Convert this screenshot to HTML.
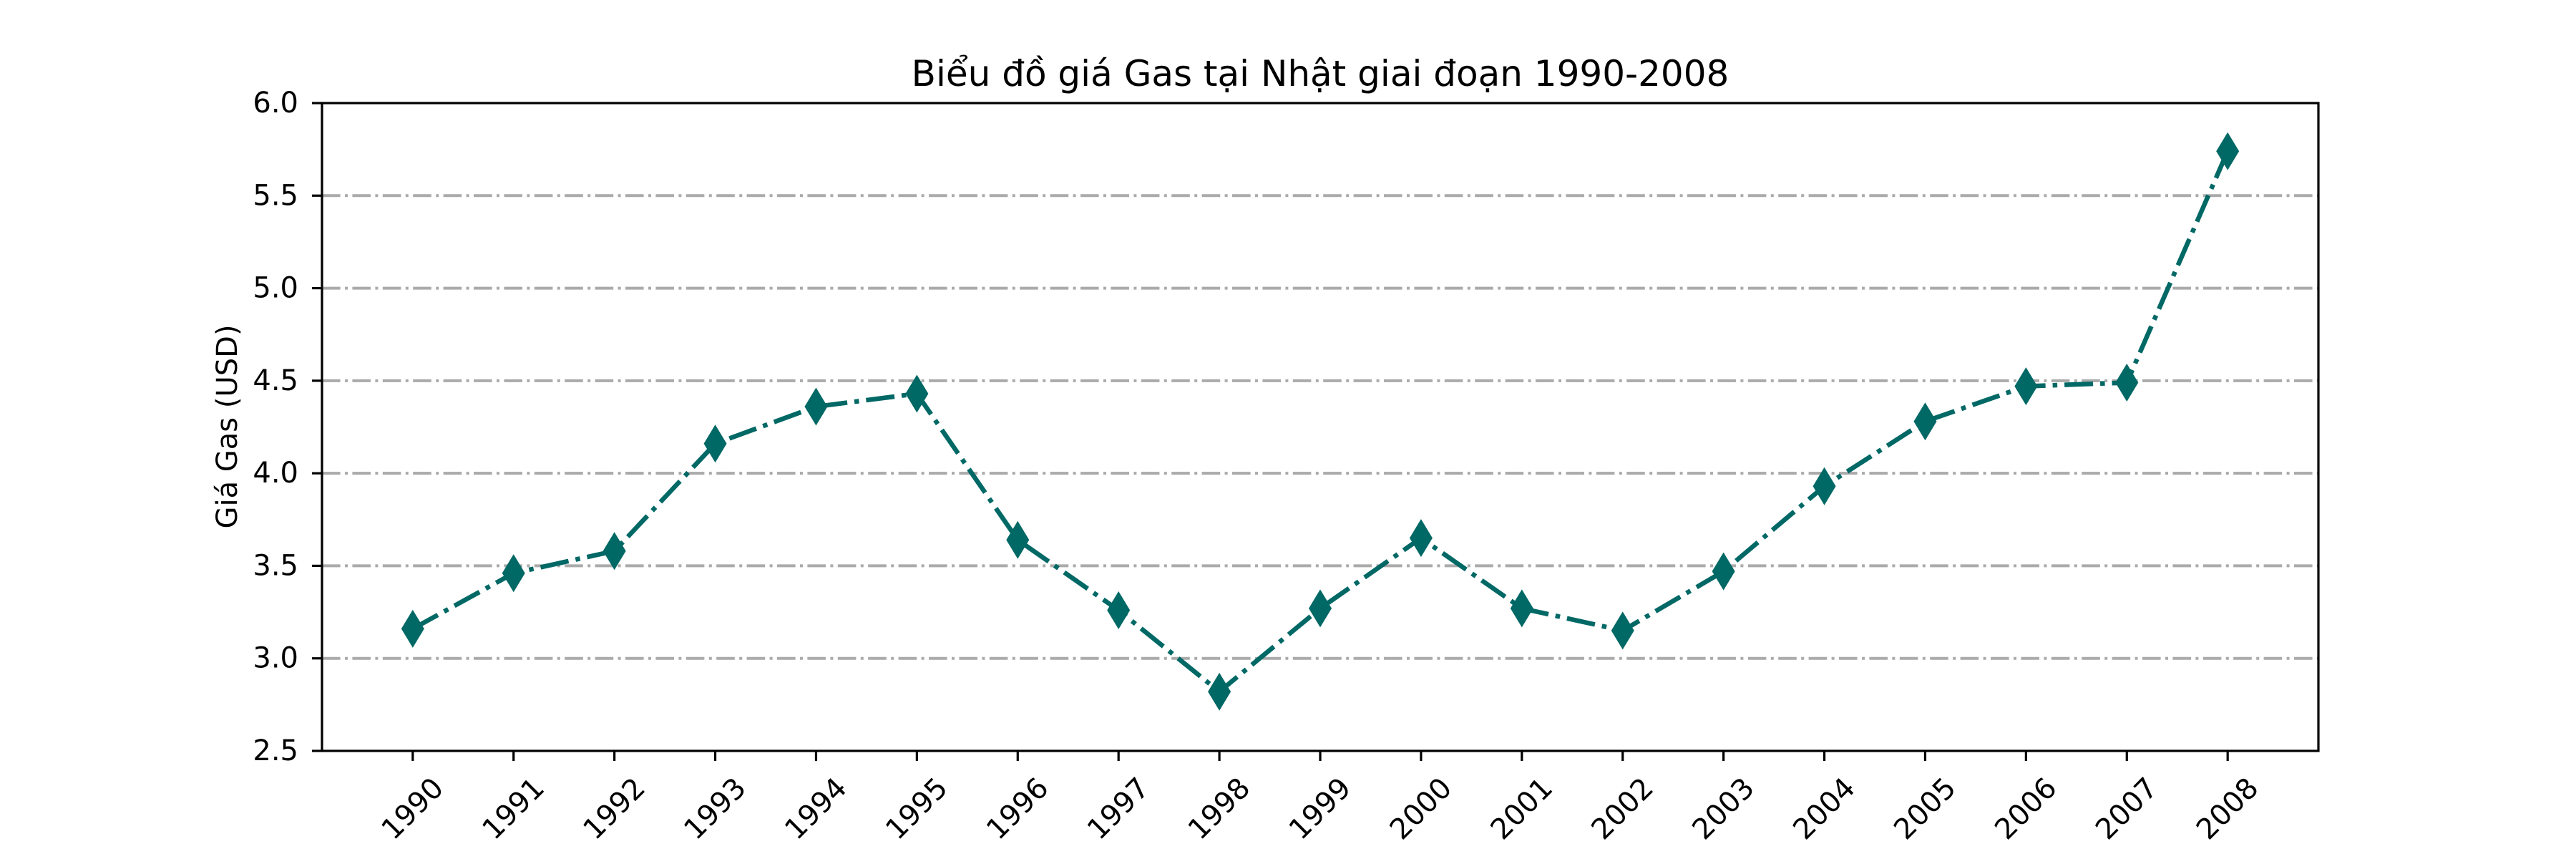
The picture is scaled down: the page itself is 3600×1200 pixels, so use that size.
<!DOCTYPE html>
<html><head><meta charset="utf-8"><style>
html,body{margin:0;padding:0;background:#fff;}
svg{display:block;font-family:"DejaVu Sans","Liberation Sans",sans-serif;}
</style></head><body>
<svg id="chart" width="3600" height="1200" viewBox="0 0 3600 1200">
<text x="1845" y="120" font-size="50" text-anchor="middle">Biểu đồ giá Gas tại Nhật giai đoạn 1990-2008</text>
<text transform="translate(318,596) rotate(-90)" font-size="40" text-anchor="middle" dominant-baseline="central">Giá Gas (USD)</text>
<g id="grid"></g>
<g id="series"></g>
<g id="axes"></g>
</svg>
<script>
const years = ["1990","1991","1992","1993","1994","1995","1996","1997","1998","1999","2000","2001","2002","2003","2004","2005","2006","2007","2008"];
const prices = [3.16,3.46,3.58,4.16,4.36,4.43,3.64,3.26,2.82,3.27,3.65,3.27,3.15,3.47,3.93,4.28,4.47,4.49,5.74];
const yTicks = [2.5,3.0,3.5,4.0,4.5,5.0,5.5,6.0];
const yTickLabels = ["2.5","3.0","3.5","4.0","4.5","5.0","5.5","6.0"];

const L=450,R=3240,T=144,B=1049;
const xMin=-0.9,xMax=18.9,yMin=2.5,yMax=6.0;
const xs=i=>L+(i-xMin)/(xMax-xMin)*(R-L);
const ys=v=>B-(v-yMin)/(yMax-yMin)*(B-T);
const NS="http://www.w3.org/2000/svg";
function mk(tag,parent,attrs){const e=document.createElementNS(NS,tag);for(const k in attrs)e.setAttribute(k,attrs[k]);parent.appendChild(e);return e;}
const grid=document.getElementById('grid'),series=document.getElementById('series'),axes=document.getElementById('axes');

yTicks.forEach((v,i)=>{
  if(v>yMin&&v<yMax){
    const g=mk('line',grid,{x1:L,x2:R,y1:ys(v),y2:ys(v),stroke:'#aaaaaa','stroke-width':4,'stroke-dasharray':'25.6 6.4 4 6.4'});
    
    
  }
  const t=mk('line',axes,{x1:L-14,x2:L,y1:ys(v),y2:ys(v),stroke:'#000','stroke-width':3.2});
  
  
  const lb=mk('text',axes,{x:L-33,y:ys(v),'font-size':40,'text-anchor':'end','dominant-baseline':'central'});
  lb.textContent=yTickLabels[i];
  
  
});

const pts=prices.map((p,i)=>xs(i)+','+ys(p)).join(' ');
const pl=mk('polyline',series,{points:pts,fill:'none',stroke:'#006865','stroke-width':6.5,'stroke-dasharray':'40 10 6.5 10','stroke-linejoin':'round'});


prices.forEach((p,i)=>{
  const x=xs(i),y=ys(p);
  const d=mk('polygon',series,{points:`${x},${y-26.5} ${x+16},${y} ${x},${y+26.5} ${x-16},${y}`,fill:'#006865'});
  
  
});

years.forEach((yr,i)=>{
  const x=xs(i);
  const t=mk('line',axes,{x1:x,x2:x,y1:B,y2:B+14,stroke:'#000','stroke-width':3.2});
  
  
  const lb=mk('text',axes,{transform:`translate(${x},1130) rotate(-45)`,'font-size':40,'text-anchor':'middle','dominant-baseline':'central'});
  lb.textContent=yr;
  
  
});

const fr=mk('rect',axes,{x:L,y:T,width:R-L,height:B-T,fill:'none',stroke:'#000','stroke-width':3.2});


</script>
</body></html>
